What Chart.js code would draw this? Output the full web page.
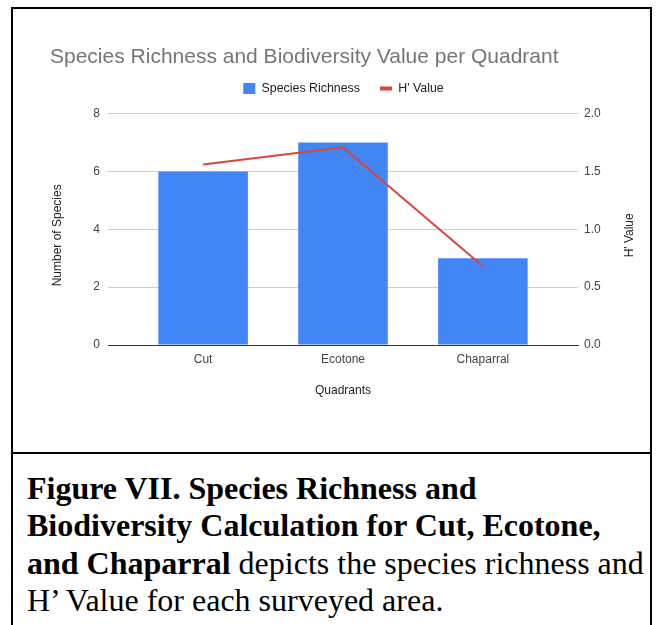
<!DOCTYPE html>
<html>
<head>
<meta charset="utf-8">
<script src="https://cdn.jsdelivr.net/npm/chart.js@4.4.1/dist/chart.umd.min.js"></script>
<style>
  html, body { margin: 0; padding: 0; background: #fff; width: 659px; height: 625px; overflow: hidden; }
  #frame { position: absolute; left: 11px; top: 7px; width: 637px; height: 700px; border: 2px solid #000; }
  #divider { position: absolute; left: 11px; top: 452px; width: 641px; height: 2px; background: #000; }
  #chartBox { position: absolute; left: 0; top: 0; width: 659px; height: 453px; }
  #caption {
    position: absolute; left: 27px; top: 470px;
    font-family: "Liberation Serif", "Times New Roman", serif;
    font-size: 32px; line-height: 37.3px; color: #000; white-space: nowrap;
  }
</style>
</head>
<body>
<div id="frame"></div>
<div id="divider"></div>
<div id="chartBox"><canvas id="chart" width="659" height="453"></canvas></div>
<div id="caption"><b>Figure VII. Species Richness and<br>Biodiversity Calculation for Cut, Ecotone,<br>and Chaparral</b> depicts the species richness and<br>H’ Value for each surveyed area.</div>

<script>
// Survey quadrants and their measured values
const quadrants = ['Cut', 'Ecotone', 'Chaparral'];
const speciesRichness = [6, 7, 3];
const hValues = [1.56, 1.71, 0.68];

// Axis ranges, tick spacing and titles
const richnessRange = [0, 8];
const richnessStep = 2;
const hRange = [0, 2];
const hStep = 0.5;
const richnessAxisTitle = 'Number of Species';
const hAxisTitle = "H' Value";

const FONT = '"Liberation Sans", Arial, sans-serif';
const BLUE = '#4285f4';
const RED = '#db4437';

const richnessPoints = quadrants.map((q, i) => ({ x: i, y: speciesRichness[i] }));
const hPoints = quadrants.map((q, i) => ({ x: i, y: hValues[i] }));

// Both vertical axis titles read bottom-to-top, drawn beside their scales
const sideTitles = {
  id: 'sideTitles',
  afterDraw(chart) {
    const { ctx, chartArea, scales } = chart;
    const midY = (chartArea.top + chartArea.bottom) / 2 + 6;
    const items = [
      { text: richnessAxisTitle, x: scales.y.left + 7.5 },
      { text: hAxisTitle, x: scales.y1.right - 7 }
    ];
    ctx.save();
    ctx.font = '12px ' + FONT;
    ctx.fillStyle = '#222';
    ctx.textAlign = 'center';
    ctx.textBaseline = 'middle';
    items.forEach((it) => {
      ctx.save();
      ctx.translate(it.x, midY);
      ctx.rotate(-Math.PI / 2);
      ctx.fillText(it.text, 0, 0);
      ctx.restore();
    });
    ctx.restore();
  }
};

new Chart(document.getElementById('chart'), {
  type: 'bar',
  data: {
    datasets: [
      {
        label: 'Species Richness',
        data: richnessPoints,
        backgroundColor: BLUE,
        borderWidth: 0,
        yAxisID: 'y',
        categoryPercentage: 1,
        barPercentage: 0.64,
        order: 2
      },
      {
        type: 'line',
        label: "H' Value",
        data: hPoints,
        borderColor: RED,
        backgroundColor: RED,
        borderWidth: 2,
        pointRadius: 0,
        tension: 0,
        yAxisID: 'y1',
        order: 1
      }
    ]
  },
  plugins: [sideTitles],
  options: {
    responsive: false,
    animation: false,
    events: [],
    layout: { padding: { left: 50, right: 22, top: 30, bottom: 48 } },
    plugins: {
      title: {
        display: true,
        align: 'start',
        text: 'Species Richness and Biodiversity Value per Quadrant',
        color: '#757575',
        font: { family: FONT, size: 21, weight: 'normal', lineHeight: 0.5 },
        padding: { top: 21.75, bottom: 0 }
      },
      legend: {
        display: true,
        labels: {
          font: { family: FONT, size: 12.4 },
          color: '#222',
          usePointStyle: true,
          boxHeight: 11,
          pointStyleWidth: 12,
          padding: 20,
          sort: (a, b) => a.datasetIndex - b.datasetIndex,
          generateLabels: (chart) => chart.data.datasets.map((ds, i) => ({
            text: ds.label,
            fillStyle: ds.type === 'line' ? RED : BLUE,
            strokeStyle: ds.type === 'line' ? RED : BLUE,
            lineWidth: ds.type === 'line' ? 4 : 0,
            pointStyle: ds.type === 'line' ? 'line' : 'rect',
            fontColor: '#222',
            hidden: false,
            datasetIndex: i
          }))
        }
      },
      tooltip: { enabled: false }
    },
    scales: {
      x: {
        type: 'linear',
        offset: false,
        min: -0.68,
        max: 2.68,
        afterBuildTicks: (scale) => { scale.ticks = quadrants.map((q, i) => ({ value: i })); },
        afterFit: (scale) => { scale.height = 60; },
        ticks: {
          autoSkip: false,
          maxRotation: 0,
          padding: 7,
          color: '#444',
          font: { family: FONT, size: 12 },
          callback: (v) => quadrants[v] ?? ''
        },
        grid: { display: false, drawTicks: false, offset: false },
        border: { display: true, color: '#333', width: 1 },
        title: {
          display: true,
          text: 'Quadrants',
          color: '#222',
          font: { family: FONT, size: 12 },
          padding: { top: 0, bottom: 7 }
        }
      },
      // empty band between the legend and the plot
      gap: {
        type: 'linear',
        position: 'top',
        min: 0,
        max: 1,
        afterFit: (scale) => { scale.height = 9; },
        ticks: { display: false },
        grid: { display: false, drawTicks: false },
        border: { display: false }
      },
      y: {
        position: 'left',
        min: richnessRange[0],
        max: richnessRange[1],
        afterFit: (scale) => { scale.width = 58; },
        ticks: {
          stepSize: richnessStep,
          padding: 8,
          color: '#444',
          font: { family: FONT, size: 12 }
        },
        grid: { color: '#cccccc', drawTicks: false },
        border: { display: false }
      },
      y1: {
        position: 'right',
        min: hRange[0],
        max: hRange[1],
        afterFit: (scale) => { scale.width = 59; },
        ticks: {
          stepSize: hStep,
          padding: 6,
          color: '#444',
          font: { family: FONT, size: 12 },
          callback: (v) => Number(v).toFixed(1)
        },
        grid: { drawOnChartArea: false, drawTicks: false },
        border: { display: false }
      }
    }
  }
});
</script>
</body>
</html>
